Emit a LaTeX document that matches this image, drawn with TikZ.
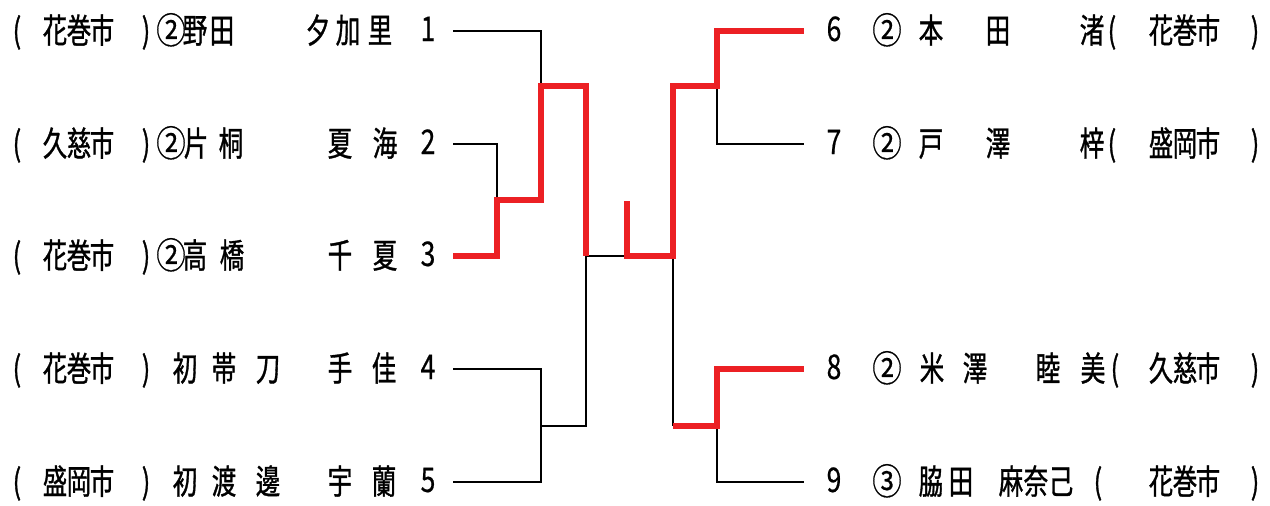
\documentclass[tikz,border=0pt]{standalone}
\usepackage{fontspec}
\newfontfamily\jp[FakeStretch=0.72,FakeBold=1.0]{Noto Sans CJK JP}
\newfontfamily\jpcirc[FakeStretch=0.82,FakeBold=0.5]{Noto Sans CJK JP}
\newfontfamily\jpnum[FakeStretch=0.78,FakeBold=0.5]{Noto Sans CJK JP}
\definecolor{winred}{RGB}{236,32,36}
\newcommand\entryrow[3]{%
  \foreach \c/\x [count=\i] in {#3} \node[ch] (#1-\i) at (\x,#2) {\c};}
\begin{document}
\begin{tikzpicture}[x=1pt,y=-1pt,
  ch/.style={inner sep=0pt,anchor=base,yshift=-2pt,font=\jp\fontsize{34}{34}\selectfont},
  circ/.style={inner sep=0pt,anchor=base,yshift=-2.5pt,font=\jpcirc\fontsize{36}{36}\selectfont},
  num/.style={inner sep=0pt,anchor=base,font=\jpnum\fontsize{34}{34}\selectfont},
  bline/.style={line width=2pt,draw=black,line join=miter},
  wpath/.style={line width=6pt,draw=winred,line join=miter}]
\useasboundingbox (0,0) rectangle (1270,506);
% ---------- left entries ----------
\entryrow{L1}{41}{{(}/17,花/55,巻/79,市/102,{)}/146,野/195,田/222,夕/318,加/348,里/380}
\entryrow{L2}{154}{{(}/17,久/55,慈/79,市/102,{)}/146,片/196,桐/231,夏/340,海/385}
\entryrow{L3}{266}{{(}/17,花/55,巻/79,市/102,{)}/146,高/195,橋/232,千/340,夏/385}
\entryrow{L4}{379}{{(}/17,花/55,巻/79,市/102,{)}/146,初/185,帯/224,刀/268,手/340,佳/384}
\entryrow{L5}{492}{{(}/17,盛/55,岡/79,市/102,{)}/146,初/185,渡/224,邊/268,宇/340,蘭/384}
\node[circ] (c1) at (171,41) {②};
\node[circ] (c2) at (171,154) {②};
\node[circ] (c3) at (171,266) {②};
\node[num] (n1) at (428,41) {1};
\node[num] (n2) at (428,154) {2};
\node[num] (n3) at (428,266) {3};
\node[num] (n4) at (428,379) {4};
\node[num] (n5) at (428,492) {5};
% ---------- right entries ----------
\node[num] (n6) at (834,41) {6};
\node[num] (n7) at (834,154) {7};
\node[num] (n8) at (834,379) {8};
\node[num] (n9) at (834,492) {9};
\node[circ] (c6) at (887,41) {②};
\node[circ] (c7) at (887,154) {②};
\node[circ] (c8) at (887,379) {②};
\node[circ] (c9) at (887,492) {③};
\entryrow{R6}{41}{本/931,田/998,渚/1092,{(}/1112,花/1161,巻/1185,市/1208,{)}/1255}
\entryrow{R7}{154}{戸/931,澤/998,梓/1092,{(}/1112,盛/1161,岡/1185,市/1208,{)}/1255}
\entryrow{R8}{379}{米/932,澤/975,睦/1048,美/1093,{(}/1115,久/1161,慈/1185,市/1208,{)}/1255}
\entryrow{R9}{492}{脇/931,田/961,麻/1011,奈/1036,己/1061,{(}/1098,花/1161,巻/1185,市/1208,{)}/1255}
% ---------- bracket coordinates ----------
\coordinate (s1) at (453,31);
\coordinate (s2) at (453,144);
\coordinate (s3) at (453,256);
\coordinate (s4) at (453,369);
\coordinate (s5) at (453,482);
\coordinate (q1) at (541,86);
\coordinate (q2) at (497,200);
\coordinate (q4) at (541,426);
\coordinate (f1) at (586,256);
\coordinate (c0) at (627,256);
\coordinate (st) at (627,201);
\coordinate (f2) at (673,256);
\coordinate (g2) at (673,426);
\coordinate (r1) at (717,86);
\coordinate (r2) at (717,426);
\coordinate (e6) at (804,31);
\coordinate (e7) at (804,144);
\coordinate (e8) at (804,369);
\coordinate (e9) at (804,482);
% ---------- black lines ----------
\draw[bline] (s1) -| (q1);
\draw[bline] (s2) -| (q2);
\draw[bline] (s4) -| (q4) |- (s5);
\draw[bline] (q4) -| (f1);
\draw[bline] (f1) -- (c0);
\draw[bline] (r1) |- (e7);
\draw[bline] (f2) -- (g2);
\draw[bline] (r2) |- (e9);
% ---------- winner lines ----------
\draw[wpath] (s3) -| (q2) -| (q1) -| (f1);
\draw[wpath] (st) -- (c0) -- (f2) |- (r1) |- (e6);
\draw[wpath] (g2) -- (r2) |- (e8);
\end{tikzpicture}
\end{document}
